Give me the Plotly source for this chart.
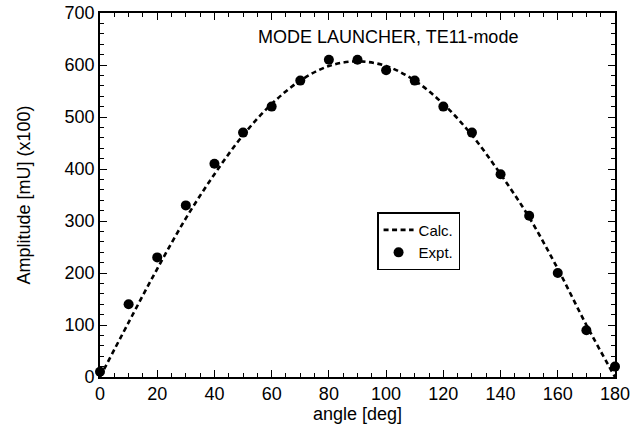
import plotly.graph_objects as go

# Calculated curve
calc_angle = [0, 10, 20, 30, 40, 50, 60, 70, 80, 90, 100, 110, 120, 130, 140, 150, 160, 170, 180]
calc_amp = [0, 105, 208, 305, 390, 465, 525, 570, 598, 607, 598, 570, 525, 465, 390, 307, 208, 100, 0]

# Experimental points
expt_angle = [0, 10, 20, 30, 40, 50, 60, 70, 80, 90, 100, 110, 120, 130, 140, 150, 160, 170, 180]
expt_amp = [10, 140, 230, 330, 410, 470, 520, 570, 610, 610, 590, 570, 520, 470, 390, 310, 200, 90, 20]

title_text = "MODE LAUNCHER, TE11-mode"
x_title = "angle [deg]"
y_title = "Amplitude [mU] (x100)"

FONT = "Liberation Sans, Arial, Helvetica, sans-serif"
FS = 18

fig = go.Figure()
fig.add_trace(go.Scatter(
    x=calc_angle, y=calc_amp, mode="lines", name="Calc.",
    line=dict(color="black", width=2.6, dash="5px,3.5px", shape="spline"),
))
fig.add_trace(go.Scatter(
    x=expt_angle, y=expt_amp, mode="markers", name="Expt.",
    marker=dict(color="black", size=10, symbol="circle"),
    cliponaxis=False,
))

axis_common = dict(
    showgrid=False, zeroline=False, showline=True, linecolor="black", linewidth=1.6,
    mirror="allticks", ticks="inside", tickcolor="black", tickwidth=1.2, ticklen=7,
    tickfont=dict(family=FONT, size=FS, color="black"), automargin=False,
)

fig.update_xaxes(
    range=[0, 180], tickmode="linear", tick0=0, dtick=20,
    minor=dict(ticks="inside", ticklen=4, dtick=5, tickcolor="black", tickwidth=1),
    title=dict(text=x_title, font=dict(family=FONT, size=FS, color="black"), standoff=4),
    **axis_common,
)
fig.update_yaxes(
    range=[0, 700], tickmode="linear", tick0=0, dtick=100,
    minor=dict(ticks="inside", ticklen=4, dtick=20, tickcolor="black", tickwidth=1),
    title=dict(text=y_title, font=dict(family=FONT, size=FS, color="black"), standoff=29),
    **axis_common,
)

fig.add_annotation(
    text=title_text, xref="paper", yref="paper", x=0.56, y=0.934,
    xanchor="center", yanchor="middle", showarrow=False,
    font=dict(family=FONT, size=FS, color="black"),
)

fig.update_layout(
    width=641, height=427,
    margin=dict(l=100, r=26, t=13, b=50),
    paper_bgcolor="white", plot_bgcolor="white",
    showlegend=True,
    legend=dict(
        x=0.538, y=0.453, xanchor="left", yanchor="top",
        bgcolor="white", bordercolor="black", borderwidth=1.5,
        font=dict(family=FONT, size=15, color="black"),
        itemwidth=30, tracegroupgap=0,
    ),
)

fig.write_html("out.html")
